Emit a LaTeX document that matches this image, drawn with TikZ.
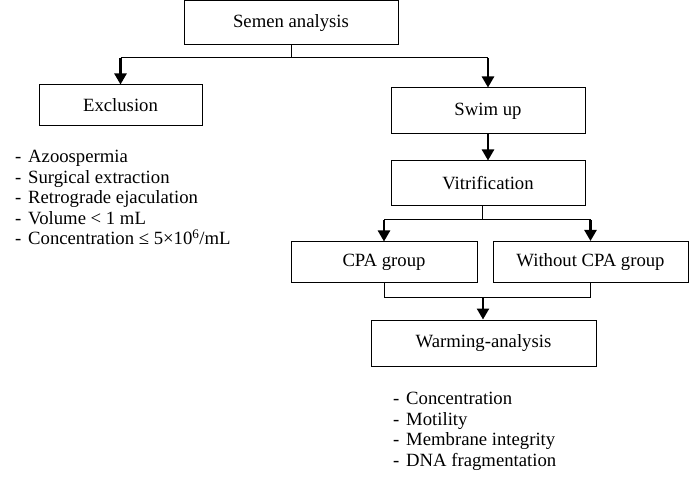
\documentclass[tikz,border=0pt]{standalone}
\usepackage{fontspec}
\setmainfont{Liberation Serif}
\usetikzlibrary{arrows.meta, positioning}

\newcommand{\itm}[1]{\makebox[13pt][l]{-}#1}

\begin{document}
\begin{tikzpicture}[
    x=1pt, y=-1pt,
    stepbox/.style={draw, line width=1pt, minimum width=#1, inner sep=0pt,
                    font=\fontsize{18.7}{20.5}\selectfont},
    link/.style={line width=1pt},
    arr/.style={line width=2.4pt, -{Triangle[length=11pt, width=12pt]}},
    notes/.style={align=left, inner sep=0pt, anchor=north west,
                  font=\fontsize{18.7}{20.6}\selectfont},
]
    \useasboundingbox (0,0) rectangle (689,484);

    % boxes
    \node[stepbox=214pt, minimum height=44pt] (semen) at (291,23) {Semen analysis};
    \node[stepbox=163pt, minimum height=41pt] (excl) at (120.5,105.5) {Exclusion};
    \node[stepbox=194pt, minimum height=46pt] (swim) at (488,111) {Swim up};
    \node[stepbox=194pt, minimum height=45pt] (vitri) at (488,183.5) {Vitrification};
    \node[stepbox=186pt, minimum height=41pt] (cpa) at (384,262.5) {CPA group};
    \node[stepbox=195pt, minimum height=41pt] (nocpa) at (590.5,262) {Without CPA group};
    \node[stepbox=225pt, minimum height=46pt] (warm) at (483.5,343) {Warming-analysis};

    % junctions
    \coordinate (j1) at (291,58);
    \coordinate (j2) at (482,220);
    \coordinate (j3) at (483,297);

    \draw[link] (semen.south) -- (j1);
    \draw[link] (excl.north |- j1) -- (swim.north |- j1);
    \draw[arr] (excl.north |- j1) -- (excl.north);
    \draw[arr] (swim.north |- j1) -- (swim.north);
    \draw[arr] (swim) -- (vitri);

    \draw[link] (vitri.south -| j2) -- (j2);
    \draw[link] (cpa.north |- j2) -- (nocpa.north |- j2);
    \draw[arr] (cpa.north |- j2) -- (cpa.north);
    \draw[arr] (nocpa.north |- j2) -- (nocpa.north);

    \draw[link] (cpa.south) -- (cpa.south |- j3) -- (nocpa.south |- j3) -- (nocpa.south);
    \draw[arr] (j3) -- (warm.north -| j3);

    % lists
    \node[notes] (exclist) at (15,150) {\itm{Azoospermia}\\ \itm{Surgical extraction}\\
        \itm{Retrograde ejaculation}\\ \itm{Volume < 1 mL}\\
        \itm{Concentration ≤ 5×10\textsuperscript{6}/mL}};
    \node[notes] (warmlist) at (393,392) {\itm{Concentration}\\ \itm{Motility}\\
        \itm{Membrane integrity}\\ \itm{DNA fragmentation}};
\end{tikzpicture}
\end{document}
